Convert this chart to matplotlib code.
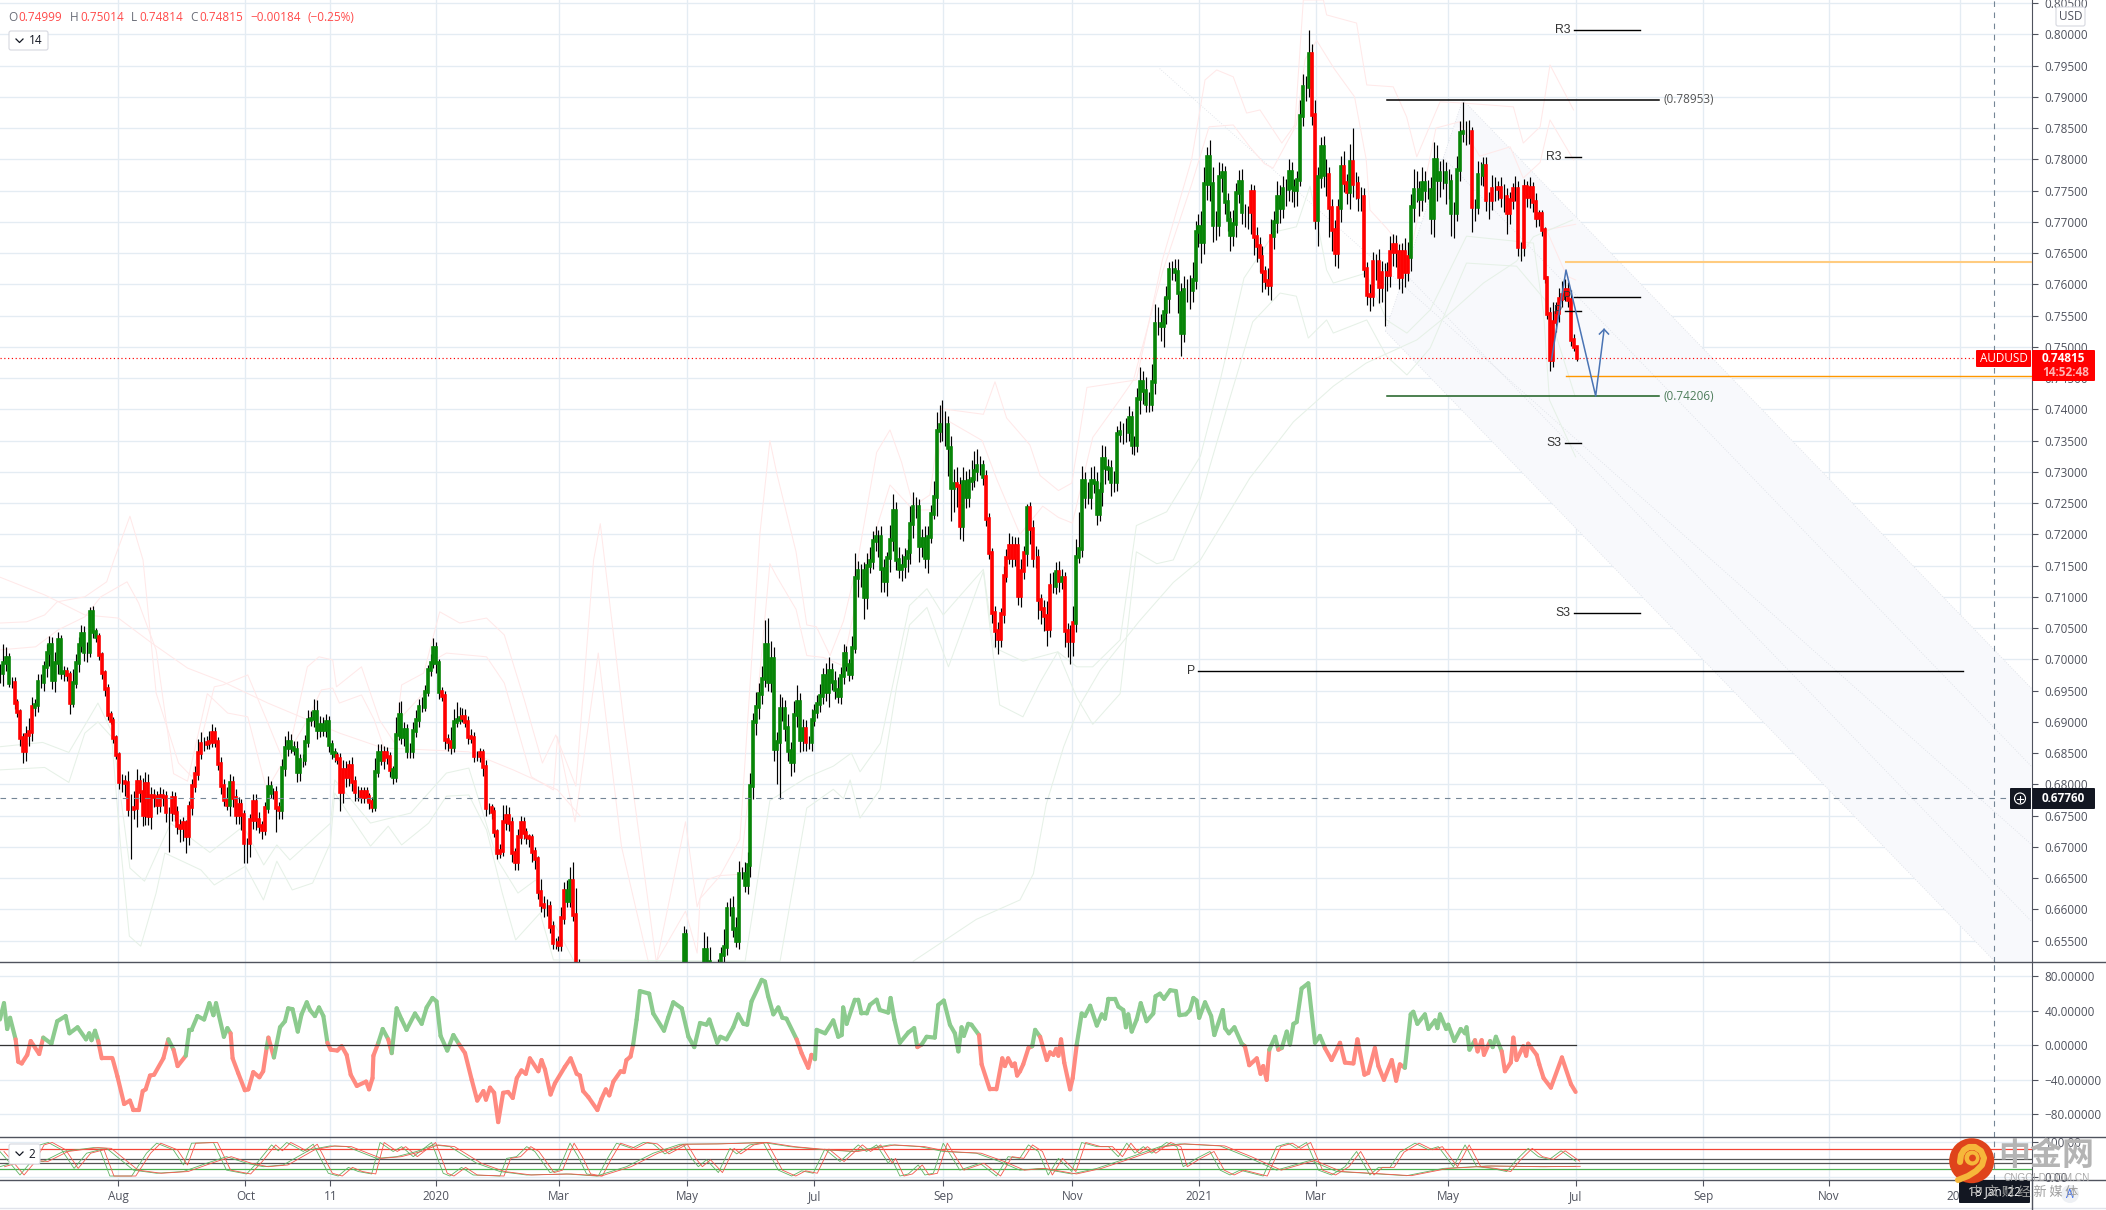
import numpy as np
import matplotlib
matplotlib.use("Agg")
import matplotlib.pyplot as plt
from matplotlib.collections import LineCollection
from matplotlib.patches import Circle, FancyBboxPatch, Polygon

# daily closes in pips (1 pip = 0.0001), bar 0 is the leftmost bar
closes = [
    6978,6994,7002,6962,6962,6930,6916,6874,6854,6879,6884,6924,6927,6964,6964,6987,7010,7023,6967,6994,
    7031,6978,6980,6975,6930,6962,6994,7023,7041,7012,7012,7076,7044,7036,7007,6978,6952,6911,6902,6874,
    6847,6803,6803,6802,6760,6760,6762,6803,6788,6751,6801,6749,6781,6780,6767,6782,6780,6755,6755,6778,
    6754,6734,6730,6738,6717,6763,6798,6817,6850,6864,6864,6866,6868,6882,6867,6833,6797,6775,6767,6802,
    6778,6751,6767,6751,6706,6706,6743,6771,6743,6734,6727,6762,6795,6786,6786,6762,6759,6826,6858,6868,
    6858,6855,6819,6839,6839,6867,6903,6904,6915,6887,6895,6887,6899,6863,6850,6845,6840,6788,6823,6812,
    6829,6804,6788,6788,6780,6788,6780,6771,6763,6820,6850,6839,6850,6843,6823,6811,6879,6911,6876,6887,
    6854,6854,6886,6903,6924,6924,6947,6983,6994,7018,6994,6948,6941,6871,6868,6860,6900,6903,6906,6908,
    6899,6875,6874,6845,6845,6850,6827,6762,6762,6755,6723,6690,6694,6739,6749,6738,6690,6675,6715,6738,
    6722,6715,6714,6691,6680,6628,6607,6604,6604,6572,6546,6546,6543,6586,6629,6614,6646,6591,6500,6480,
    6420,6350,6300,6230,6180,6080,5980,5880,5780,5750,5820,5920,6000,5950,6060,6100,6020,6080,6150,6120,
    6200,6130,6100,6190,6250,6190,6300,6240,6200,6160,6260,6290,6350,6400,6470,6559,6480,6450,6470,6500,
    6490,6470,6535,6516,6504,6492,6498,6510,6527,6539,6600,6600,6568,6550,6656,6656,6639,6671,6798,6899,
    6923,6944,6969,7023,6963,7000,6856,6868,6920,6920,6890,6854,6835,6911,6931,6871,6889,6868,6868,6903,
    6916,6928,6942,6974,6948,6982,6963,6951,6942,6974,7009,6991,6976,7018,7130,7141,7141,7099,7150,7158,
    7189,7195,7195,7144,7125,7162,7191,7238,7159,7144,7150,7162,7171,7216,7244,7244,7182,7193,7162,7196,
    7233,7260,7366,7375,7375,7375,7338,7274,7280,7277,7214,7283,7260,7285,7289,7302,7309,7309,7291,7224,
    7170,7074,7046,7032,7072,7133,7162,7182,7162,7182,7101,7141,7170,7242,7209,7162,7162,7095,7081,7069,
    7049,7118,7118,7140,7126,7130,7046,7029,7029,7058,7164,7177,7285,7260,7260,7285,7282,7233,7269,7321,
    7306,7305,7283,7283,7361,7364,7364,7364,7386,7343,7343,7416,7444,7429,7409,7409,7444,7537,7537,7533,
    7556,7578,7623,7623,7620,7586,7522,7591,7591,7591,7607,7684,7692,7668,7761,7803,7761,7695,7695,7772,
    7778,7732,7703,7679,7697,7746,7763,7715,7715,7715,7747,7675,7662,7644,7620,7606,7599,7678,7700,7739,
    7722,7752,7752,7779,7754,7751,7767,7869,7915,7915,7969,7871,7703,7772,7819,7775,7775,7722,7687,7650,
    7722,7788,7762,7747,7796,7760,7760,7740,7740,7624,7583,7581,7635,7635,7596,7618,7618,7615,7652,7663,
    7652,7612,7652,7620,7643,7723,7751,7751,7736,7762,7751,7751,7706,7799,7767,7778,7778,7763,7763,7714,
    7714,7783,7842,7843,7843,7843,7724,7724,7775,7775,7790,7735,7735,7753,7753,7754,7740,7740,7714,7735,
    7752,7752,7659,7659,7755,7740,7754,7732,7706,7713,7687,7610,7552,7479,7540,7554,7576,7583,7591,7575,
    7511,7500,7482,
]
# wick lengths above and below the body, pips
wick_up = [
    15,31,18,8,10,10,6,5,8,14,22,15,10,12,12,10,15,14,12,18,
    12,8,10,8,6,22,14,12,14,12,15,8,10,6,6,5,5,8,6,6,
    5,5,14,12,20,25,28,22,12,22,18,16,14,12,10,14,10,10,8,12,
    10,12,10,10,5,10,10,12,22,20,12,12,18,14,10,8,10,12,20,14,
    12,14,12,10,8,8,10,14,14,12,8,10,18,10,8,12,10,14,20,18,
    12,12,14,10,10,12,16,14,22,20,15,12,14,10,8,8,6,10,16,14,
    10,14,10,10,8,8,8,6,8,22,15,14,12,10,8,6,28,20,22,12,
    10,12,14,16,12,16,12,8,14,16,10,6,8,8,10,24,20,28,18,14,
    12,10,14,10,8,8,6,12,8,6,8,6,10,28,18,14,10,8,14,12,
    10,8,6,6,8,6,20,14,12,10,10,8,12,18,14,18,22,30,43,20,
    10,10,10,10,10,10,10,10,10,10,10,10,10,10,10,10,10,10,10,10,
    10,10,10,10,10,10,10,10,10,10,10,10,10,10,20,14,10,10,10,10,
    10,10,29,22,23,10,10,10,12,30,12,18,22,20,21,12,20,20,20,15,
    25,18,20,40,43,30,20,15,25,20,15,22,14,22,28,15,16,14,10,18,
    12,15,18,12,20,22,12,18,20,14,16,12,10,20,40,16,12,14,20,22,
    16,18,12,18,16,10,24,26,14,20,18,16,22,30,24,16,12,16,20,18,
    14,25,30,32,40,22,14,20,24,28,14,24,18,20,30,32,28,16,10,12,
    10,8,12,14,10,16,14,20,16,14,14,20,12,6,10,14,20,14,10,14,
    24,20,22,16,18,14,10,12,26,28,28,58,24,14,24,22,24,18,14,22,
    20,14,14,18,12,18,14,22,20,12,14,18,24,18,22,18,28,32,26,16,
    24,20,12,14,18,20,16,22,18,24,28,18,20,26,26,16,28,26,22,24,
    16,12,14,14,22,16,20,22,14,10,14,12,16,14,18,10,20,26,18,26,
    20,22,16,22,16,14,14,26,22,18,38,16,24,16,16,18,26,12,14,16,
    14,18,26,14,28,54,20,14,16,14,12,18,16,14,22,20,16,18,26,18,
    16,12,14,22,24,22,34,30,14,26,20,16,20,28,24,20,22,18,22,14,
    18,22,20,49,18,20,8,12,22,20,14,14,12,22,18,12,18,20,14,12,
    10,22,14,8,14,10,18,10,14,6,6,4,4,12,32,18,18,22,18,12,
    16,10,2,
]
wick_down = [
    16,20,12,6,8,10,8,12,20,16,18,14,14,12,10,14,16,20,14,20,
    18,10,12,10,18,6,8,14,12,14,16,8,10,8,8,10,10,8,6,8,
    6,10,16,20,10,80,16,30,16,18,16,14,20,16,14,12,14,16,64,14,
    12,14,22,20,27,14,12,10,10,10,10,8,10,8,8,10,12,10,8,18,
    14,14,14,24,32,32,22,14,16,12,14,8,8,8,10,38,14,14,12,12,
    8,8,16,14,12,8,8,10,12,14,12,10,12,12,10,10,8,30,18,16,
    14,14,14,14,10,10,8,10,8,6,8,8,14,10,12,10,8,8,12,14,
    12,12,12,10,12,8,6,6,10,8,16,12,8,14,14,12,8,8,6,6,
    8,10,8,10,8,10,14,12,10,10,8,10,8,8,12,12,14,12,12,10,
    10,10,14,16,16,12,12,16,14,10,10,10,10,10,10,10,10,10,10,10,
    10,10,10,10,10,10,10,10,10,10,10,10,10,10,10,10,10,10,10,10,
    10,10,10,10,10,10,10,10,10,10,10,10,10,10,10,10,10,10,10,10,
    10,10,10,8,10,10,10,10,10,14,12,10,12,10,14,8,12,14,20,22,
    20,18,16,14,14,16,18,55,91,18,20,16,22,16,20,20,18,14,12,14,
    10,10,12,14,14,24,12,14,12,14,14,10,10,8,8,30,26,34,18,12,
    14,16,32,36,18,24,22,18,16,14,18,20,22,18,22,18,26,18,16,24,
    10,8,30,18,26,34,44,52,38,34,22,24,18,16,14,14,16,14,12,10,
    10,16,26,24,12,14,10,10,14,12,14,18,12,20,24,14,16,30,24,24,
    28,14,12,14,18,14,26,26,36,24,14,10,14,18,12,20,16,18,12,24,
    26,18,22,16,14,14,20,16,14,14,16,12,24,20,14,14,12,20,18,24,
    34,20,24,16,14,32,36,14,20,30,20,14,24,34,20,26,28,28,24,18,
    24,20,18,26,18,22,16,18,24,26,34,28,26,24,32,14,16,24,22,18,
    24,16,26,18,22,28,26,10,16,22,16,16,14,42,18,20,34,46,34,20,
    24,22,14,18,26,20,24,22,22,12,16,24,16,28,26,24,84,26,20,22,
    24,20,26,24,14,22,24,20,26,18,20,14,26,30,34,28,26,34,26,36,
    40,12,18,14,20,18,40,22,12,16,18,18,30,16,20,18,16,24,34,18,
    14,18,14,22,14,16,18,16,14,12,10,8,8,18,12,16,14,12,10,12,
    10,6,4,
]
# bars painted red (first, last), everything else is green
red_runs = [(4,11),(23,24),(34,78),(80,91),(94,96),(116,128),(132,134),(152,155),(159,194),
            (197,234),(277,277),(329,330),(339,352),(354,362),(364,364),(366,369),(429,437),
            (451,452),(456,460),(462,463),(465,484),(505,507),(511,542)]

# faint bands (bar, pips)
band_r1 = [(0,7058),(9.5,7060),(15.7,7071),(20,7092),(29.5,7100),(37,7124),(39.5,7159),(45,7229),(49.5,7159),
           (54,6946),(61.7,6834),(66.3,6812),(74,6956),(77,6959),(85.5,6975),(92,6903),(98.5,6829),(106,6988),
           (110,7004),(114.7,6999),(116,6956),(124.6,6988),(130.8,6903),(136,6866),(138.4,6959),(146,6978),
           (151.5,7076),(158.4,7058),(167.6,7066),(173.7,7039),(180.6,6935),(186.8,6834),(191.4,6879),(198.3,6797),
           (204.4,7159),(206.7,7217),(215,6892),(226,6514),(236,6740),(240,6604),(243.3,6647),(248,6655),(254.7,6712),
           (261.6,7202),(265,7350),(267.4,7297),(274,7172),(277.7,7055),(281,7052),(285.7,7006),(290.3,7061),(295,7153),
           (301.7,7331),(306.3,7367),(310.3,7315),(314.3,7245),(320,7263),(324,7401),(338.4,7392),(342.4,7444),
           (346.4,7386),(354.4,7343),(357.9,7294),(364.2,7270),(368.8,7282),(374,7435),(391,7447),(400,7640),(410,7800),
           (414.6,7927),(418.6,7943),(424.3,7932),(428.9,7874),(433.5,7879),(441,7826),(445.5,7855),(448.4,8055),
           (455.3,8055),(456.4,8031),(466.7,8018),(470.2,7919),(479.3,7916),(483.9,7868),(487.4,7804),(495.4,7892),
           (503.4,7890),(520.6,7884),(524,7826),(529.8,7852),(533.2,7951),(541.3,7879)]
band_r2 = [(0,7015),(12.6,7020),(20.3,7047),(29.5,7068),(35,7100),(44,7124),(48,7090),(54,7015),(60,6817),(64.8,6805),
           (71.6,6945),(78.6,6914),(85.5,6908),(92,6791),(106,6903),(110.8,6951),(114.7,6954),(117,6930),(124.6,6943),
           (129,6903),(135.4,6818),(138.4,6908),(146,6946),(150,7000),(153.8,7010),(167.6,7004),(173.7,6962),(183,6812),
           (190.6,6791),(192,6876),(198,6740),(206,7010),(214,6700),(224,6500),(236,6597),(240,6530),(241,6617),(248,6654),
           (254.7,6656),(258,6798),(265,7153),(267.4,7132),(274,7080),(277.7,7006),(283.4,7003),(290,6990),(295,7100),
           (301,7200),(306.3,7279),(314.3,7239),(321,7239),(324.6,7386),(338,7350),(343,7288),(351,7200),(358.8,7245),
           (364.2,7227),(369,7218),(376,7355),(385.4,7416),(390,7447),(400,7620),(410,7760),(416,7852),(424.3,7855),
           (430,7820),(435,7793),(438,7786),(446,7855),(449,7960),(453,7990),(459,7945),(466,7900),(470,7800),(471.3,7719),
           (477,7690),(485,7645),(494,7850),(502,7860),(509,7805),(519.5,7820),(524,7770),(529.8,7795),(533.2,7863),(541.3,7799)]
band_r3 = [(526,7759),(532,7687),(539,7613),(542,7607)]
band_r4 = [(531.6,7687),(542,7696)]
band_long = [(0,7132),(15.7,7103),(29.5,7071),(41,7066),(52.5,7026),(64.8,6986),(77,6964),(92.4,6930),(104.7,6906),
             (117,6882),(132,6858),(147.6,6855),(161.5,6852),(176.8,6823),(192,6791),(199.8,6749)]
band_g1 = [(0,6860),(15,6867),(24,6851),(34,6930),(39,6882),(45,6666),(50,6645),(59,6738),(72.5,6691),(84,6733),(91,6671),
           (95.5,6703),(100,6679),(114,6738),(115.4,6807),(127.7,6738),(141.5,6754),(153.8,6818),(161.5,6826),(171.4,6679),
           (178.4,6626),(184.5,6647),(189,6594),(198,6514),(256.5,6517),(265,6774),(277.7,6811),(286.8,6829),(293,6850),
           (296,6820),(303,6866),(313,7086),(319,7113),(324.6,7071),(338.4,7144),(342,7019),(352,6997),(364,7012),(370.5,6988),
           (376,6988),(385.4,7031),(391,7214),(401.4,7236),(413,7325),(420,7450),(428,7610),(438.7,7684),(446,7692),(450.7,7757),
           (456.4,7623),(458.7,7602),(470,7618),(477,7543),(484,7522),(492,7559),(504.5,7677),(527.5,7666),(531,7554),(533,7415),(542,7324)]
band_g2 = [(0,6823),(15.7,6827),(24,6803),(29.5,6882),(34,6900),(38.7,6876),(41.8,6700),(44.8,6557),(48.7,6541),(54,6626),
           (57,6690),(69.4,6663),(74,6639),(84.7,6669),(90.9,6615),(95.5,6677),(100.8,6631),(107.8,6642),(113.9,6706),(115.4,6786),
           (127.7,6701),(133.8,6733),(138.4,6703),(147.7,6738),(153.8,6781),(161.5,6783),(167.6,6727),(173,6626),(177.6,6551),
           (186,6594),(190.6,6519),(268.5,6517),(277.7,6762),(286.8,6792),(290.3,6777),(292.6,6807),(296,6746),(302.9,6792),
           (308.6,6957),(313,7055),(319,7083),(326.4,6988),(332.7,7068),(338.4,7141),(341.8,7006),(344,6927),(352,6908),(358,6964),
           (364,7012),(370.5,6939),(376,6896),(385.4,6945),(391,7172),(398,7153),(403.7,7159),(413,7257),(422,7400),(431,7540),
           (440.4,7586),(446,7581),(450.1,7514),(456.4,7543),(458.7,7522),(470.2,7543),(477,7485),(484,7455),(492,7498),(504.5,7634),
           (521.7,7629),(531.5,7575),(541.8,7421)]
band_g3 = [(314.3,6517),(336,6584),(351,6615),(355.6,6657),(360,6768),(366,6860),(371.6,6927),(378.5,6982),(392,7061),(403.7,7123),
           (413,7159),(430,7290),(445,7380),(458.7,7437),(470,7474),(487.4,7511),(498.8,7554),(510.3,7602),(521.7,7637),(527.5,7676),(541,7703)]

# lower panes (bar, value)
cci_points = [
    (0.3,30),(1.7,49),(2.8,19),(3.8,32),(5.7,7),(6.6,-19),(7.8,-21),(9.7,-11),(10.9,5),(13.8,-10),(15.2,9),(18,2),(20,28),(22.9,34),
    (24.2,14),(27,21),(29.9,7),(31,14),(31.8,6),(33,17),(34.1,5),(35.3,-15),(39,-15),(40.7,-36),(43,-68),(45,-64),(46.2,-75),(48.1,-75),
    (49.4,-53),(50.4,-51),(51.9,-35),(53.3,-34),(56.5,-15),(58.2,7),(60,-5),(61.4,-24),(64.2,-12),(65.4,18),(66.2,18),(68.2,34),(70.5,30),
    (72.3,49),(73.7,35),(74.6,49),(77.3,10),(78.5,20),(79.6,14),(80.3,-15),(82.2,-32),(84.5,-52),(85.7,-51),(87.4,-31),(89.5,-37),(90.8,-30),
    (92,-3),(92.6,9),(94.5,-14),(96.6,21),(98.3,28),(99.4,43),(100.9,42),(102.7,16),(104,36),(105.8,50),(106.9,41),(108.6,34),(110,44),(111.5,34),
    (112.9,3),(114,-5),(116.3,-6),(117.8,-1),(119.5,-11),(120.9,-34),(123,-47),(126.2,-42),(127.2,-51),(128.4,-38),(128.7,-12),(130.4,3),(131.9,19),
    (133.8,7),(135,-9),(136.7,43),(138.4,30),(140.1,18),(143,37),(145.3,25),(147,44),(149,55),(150.4,51),(151.8,11),(154.1,-6),(156.2,12),(158.2,1),
    (160.2,-9),(162.5,-40),(164.4,-64),(166.5,-53),(167.4,-63),(168.8,-49),(170.2,-55),(171.6,-89),(173.3,-55),(175,-54),(176.6,-61),(178,-38),(179.6,-29),
    (181.1,-33),(182.5,-15),(185.4,-30),(186.5,-17),(187.7,-28),(189.6,-57),(191.1,-44),(194.5,-25),(196.5,-15),(198.6,-33),(199.7,-35),(200.8,-53),
    (202.6,-60),(205.7,-75),(207.1,-62),(208.6,-51),(209.8,-58),(211.2,-42),(213.7,-30),(214.8,-31),(215.7,-17),(217.1,-13),(218,1),(219.2,30),(220.3,63),
    (223.5,60),(224.9,37),(228.6,17),(230,32),(231.8,50),(234.7,43),(237,10),(239,-2),(241,26),(243.2,24),(244.2,30),(246.9,3),(248,10),(250.1,7),(252.4,21),
    (254.1,36),(255.9,25),(257.2,24),(258.7,51),(262.2,76),(263.3,74),(264.4,57),(266.2,36),(267.9,44),(269.3,32),(270.7,31),(274.2,7),(275.9,-9),(278.2,-26),
    (279.3,-11),(280.5,-16),(281.1,18),(284,14),(286.8,29),(288.5,10),(289.7,12),(290.2,44),(291.4,25),(294.2,53),(295.4,53),(296.5,37),(298.3,37),(299.4,47),
    (301.7,53),(302.8,41),(305.7,38),(306.5,55),(307.8,30),(309.7,3),(312.6,15),(314.6,20),(315.7,-2),(317.2,1),(318.9,10),(321.7,9),(322.9,47),(324.8,52),
    (326.9,24),(328.6,14),(329.8,-7),(330.9,21),(331.7,11),(333.2,25),(334.3,24),(336.9,12),(337.8,-22),(340.6,-51),(342.9,-51),(344.9,-15),(345.8,-24),
    (346.9,-15),(348.3,-24),(349.2,-21),(350,-35),(351,-30),(352.1,-22),(353.9,-3),(355.2,-1),(356.2,18),(357.9,10),(360.2,-17),(361.3,-8),(362.5,-11),(363.4,-4),
    (364.2,-12),(365.1,7),(366.2,-20),(368.2,-51),(369.1,-38),(370.5,1),(372.2,37),(373.3,34),(375.1,46),(377.4,23),(379.1,36),(380.2,31),(381.4,54),(383.7,54),
    (384.8,45),(386.5,41),(387.4,21),(388.2,36),(389.4,16),(391.1,30),(392.5,49),(394.5,28),(396.8,37),(397.6,57),(399.1,60),(400.5,54),(402.6,64),(404.6,63),
    (405.8,35),(408,36),(409.4,41),(410.6,55),(411.7,52),(412.6,32),(414.6,50),(416.7,34),(417.8,12),(420.7,41),(421.5,20),(422.8,14),(424.7,21),(427.2,2),
    (428.3,-1),(429.8,-23),(432.4,-15),(433.7,-33),(434.6,-24),(435.8,-40),(436.7,-5),(438.7,10),(439.8,-5),(441,-3),(442.7,16),(443.8,1),(445,25),(446.1,27),
    (447.8,66),(450.1,72),(452.4,3),(454.1,11),(455.8,-3),(458.1,-17),(461,3),(462.7,-20),(465.6,-21),(467,7),(469.4,-34),(470.7,-32),(473,-3),(474.2,-24),
    (476.1,-40),(478.8,-17),(480.3,-41),(481.6,-22),(483.3,-26),(485.3,36),(486.2,39),(487.6,25),(490.2,36),(491.4,19),(493.7,29),(494.5,20),(495.4,36),
    (497.5,19),(498.2,24),(500.3,5),(502.5,19),(504,14),(504.5,21),(505.5,-5),(507.4,6),(508.3,-7),(509.7,6),(510.5,-11),(512.6,5),(513.5,-2),(514.6,10),
    (516.6,-7),(517.7,-30),(519.7,-20),(520.6,9),(521.7,-17),(524,-1),(525,-12),(525.7,2),(528.6,-11),(529.5,-22),(531,-38),(533.5,-49),(537.3,-14),(540.4,-45),(542,-54),
]
stoch_fast = [
    (0.3,73),(3.8,39),(7.2,5),(10.6,39),(14.1,92),(16.9,99),(21.5,78),(25.8,24),(30.1,68),(34.7,78),(38.1,2),(45.6,2),(50.7,68),(54.2,97),(59.9,78),(63.4,34),
    (66.2,97),(73.7,99),(78.2,19),(85.1,8),(89.1,44),(93.7,92),(96,75),(98.9,99),(101.7,87),(104.6,73),(108,94),(113.2,10),(116.6,2),(120.1,27),(123.5,15),
    (128.1,8),(131,99),(135.5,73),(138.4,87),(142.4,58),(148.7,99),(152.7,10),(155,2),(159,27),(163,5),(172.2,2),(174.5,53),(177.9,58),(181.4,87),(184.2,73),
    (189.4,12),(192.3,19),(196.3,97),(199.1,58),(202,8),(206,2),(208.9,49),(212.3,97),(217.5,82),(221.5,99),(224.9,95),(228.9,66),(235.2,94),(238.1,53),(240.4,29),
    (243.2,49),(247.3,12),(251.3,82),(253.6,66),(258.1,92),(262.7,99),(267.9,19),(272.5,2),(275.9,17),(279.9,10),(283.9,80),(289.1,44),(295.4,92),(298.2,73),
    (301.7,92),(305.7,39),(306.8,53),(309.7,2),(312.6,8),(316,34),(318.3,5),(321.2,10),(324.6,97),(330.3,19),(337.2,39),(342.9,2),(346.9,58),(350.9,53),(353.9,92),
    (357.3,73),(360.7,5),(364.2,53),(368.8,15),(372.2,99),(377.4,87),(381.4,87),(384.8,58),(387.7,97),(390.5,68),(393.4,87),(396.3,68),(401.4,99),(404.9,87),
    (407.1,29),(411.7,53),(416.3,73),(419.8,19),(423.2,5),(426.6,19),(434.6,2),(439.2,87),(443.2,97),(446.1,82),(449.5,99),(453.6,19),(458.1,5),(462.7,29),
    (466.7,73),(471.3,5),(474.2,27),(478.2,27),(481.6,71),(486.8,97),(491.4,78),(494.8,87),(500,29),(504,92),(508,29),(513.1,24),(518.3,15),(521.7,49),(525.7,82),
    (529.2,58),(533,50),(537,75),(542,45),
]
stoch_slow = [
    (0.3,29),(8.3,49),(15.2,44),(22.1,73),(32.4,84),(37,82),(46.2,19),(54.2,10),(63.4,15),(71.4,39),(78.2,58),(85.1,39),(90.9,29),(97.7,34),(106.9,78),(113.8,89),
    (119.5,87),(129.8,53),(136.7,58),(143.6,73),(149.3,92),(155,87),(164.2,39),(172.2,15),(181.4,5),(195.1,8),(205.4,2),(215.7,29),(224.9,68),(234.1,94),(246.7,95),
    (262.7,99),(271.9,87),(283.4,78),(293.7,73),(306.3,92),(316.6,87),(324.6,73),(336,68),(344,44),(350.9,19),(357.9,24),(368.8,8),(377.4,24),(387.7,53),(399.1,87),
    (406,95),(419.8,89),(428.9,58),(439.2,19),(450.7,47),(459.9,15),(470.2,10),(483.9,3),(496.5,24),(511.4,31),(529.8,29),(542,30),
]
stoch_levels = [(79,"#F44336"),(52,"#555555"),(40,"#555555"),(21,"#4CAF50")]

# drawings on the price pane: (label, price, first bar, last bar)
levels = [("R3",0.80075,541.4,564.2),("R3",0.78032,538.3,544.0),("P",0.75792,541.4,564.2),
          ("P",0.75573,538.3,544.0),("S3",0.73461,538.3,544.0),("S3",0.70741,541.4,564.2),("P",0.69821,412.2,675.1)]
blue_bars = [533.7,538.7,548.9,551.8]
blue_prices = [0.74789,0.76229,0.74213,0.75280]
head_bars = [550.2,551.8,553.3]
head_prices = [0.75205,0.75280,0.75205]
fork_top = (503.2,0.78953)
fork_low = (476.6,0.7525)
fork_right = [0.69525,0.68277,0.67029,0.65797,0.64549]

tick_bars = [41,84.7,113.9,150.3,192.6,236.5,280.3,324.6,369,412.6,452.7,498.2,542,585.8,629,674]
tick_text = ["Aug","Oct","11","2020","Mar","May","Jul","Sep","Nov","2021","Mar","May","Jul","Sep","Nov","2022"]
cci_ticks = [80,40,0,-40,-80]
last_price = 0.74815
cursor_price = 0.67776
cursor_bar = 685.8

W, H = 2106, 1210
FONT = ["Open Sans", "DejaVu Sans"]
CJK = ["Noto Sans CJK SC", "DejaVu Sans"]
plt.rcParams["font.family"] = FONT
GRID = "#E4ECF3"
AXIS = "#50535E"
TXT = "#50535E"
FS = 8.5


def pane(top, bottom):
    a = fig.add_axes([0, 1 - bottom / H, 2032 / W, (bottom - top) / H])
    a.set_xlim(0.33, 698.9)
    a.set_facecolor("white")
    for s in ["top", "left", "bottom"]:
        a.spines[s].set_visible(False)
    a.spines["right"].set_color(AXIS)
    a.yaxis.tick_right()
    a.tick_params(axis="y", length=4, color=AXIS, labelcolor=TXT, labelsize=FS, pad=5, width=0.8)
    a.set_xticks(tick_bars)
    a.set_xticklabels([])
    a.tick_params(axis="x", length=0)
    a.grid(True, color=GRID, lw=0.95)
    a.set_axisbelow(True)
    return a


def band(a, pts, color, lw=0.75):
    b, p = zip(*pts)
    a.plot(b, np.array(p) / 10000, color=color, lw=lw, zorder=1.5)


fig = plt.figure(figsize=(W / 100, H / 100), dpi=100, facecolor="white")
ax = pane(0, 962)
ax_cci = pane(962, 1137.3)
ax_st = pane(1137.3, 1180)

# ---- price pane
ax.set_ylim(0.65157, 0.80549)
pticks = np.arange(0.655, 0.8051, 0.005)
ax.set_yticks(pticks)
ax.set_yticklabels(["%.5f" % v for v in pticks])

# pitchfork
ax.add_patch(Polygon([fork_top, (698.9, fork_right[0]), (698.9, fork_right[4]), fork_low],
                     closed=True, fc="#F8F9FC", ec="none", zorder=1))
for i, pr in enumerate(fork_right):
    if i == 2:
        start = (399, 0.79451)
    else:
        frac = i / 4
        start = (fork_top[0] + (fork_low[0] - fork_top[0]) * frac, fork_top[1] + (fork_low[1] - fork_top[1]) * frac)
    ax.plot([start[0], 698.9], [start[1], pr], color="#DADEE5", lw=0.6, ls=(0, (1, 2)), zorder=1.2)
ax.plot([fork_top[0], fork_low[0]], [fork_top[1], fork_low[1]], color="#DADEE5", lw=0.6, ls=(0, (1, 2)), zorder=1.2)

for pts in [band_r1, band_r2, band_r3, band_r4, band_long]:
    band(ax, pts, "#FFE9E9")
for pts in [band_g1, band_g2, band_g3]:
    band(ax, pts, "#E6F1E7")

n = len(closes)
bars = np.arange(n) + 0.33
c = np.array(closes, dtype=float)
o = np.r_[c[0], c[:-1]]
top_b = np.maximum(o, c)
bot_b = np.minimum(o, c)
highs = top_b + np.array(wick_up)
lows = bot_b - np.array(wick_down)
ax.vlines(bars, lows / 10000, highs / 10000, color="black", lw=0.85, zorder=2)
is_red = np.zeros(n, dtype=bool)
for a, b in red_runs:
    is_red[a:b + 1] = True
colors = np.where(is_red, "#FF0000", "#078507")
ax.vlines(bars, bot_b / 10000, top_b / 10000, colors=list(colors), lw=2.6, zorder=3, capstyle="projecting")

ax.axhline(last_price, color="#FF0000", lw=0.85, ls=(0, (1, 2.2)), zorder=4)
ax.axhline(cursor_price, color="#758696", lw=0.8, ls=(0, (5, 5)), zorder=4)

for label, price, b0, b1 in levels:
    ax.plot([b0, b1], [price, price], color="black", lw=1.0, zorder=5)
    ax.text(b0 - 1.1, price, label, ha="right", va="center", fontsize=FS + 0.3, color="#333333", zorder=5,
            family=["Liberation Sans"])
ax.plot([477.1, 570.6], [0.78953, 0.78953], color="black", lw=1.1, zorder=5)
ax.plot([477.1, 570.6], [0.74206, 0.74206], color="#1B5E20", lw=1.1, zorder=5)
ax.text(572.3, 0.78953, "(0.78953)", color="#555555", fontsize=FS, va="center", zorder=5)
ax.text(572.3, 0.74206, "(0.74206)", color="#4E7D5B", fontsize=FS, va="center", zorder=5)
ax.plot([538.7, 698.9], [0.76358, 0.76358], color="#FFCC80", lw=1.5, zorder=5)
ax.plot([538.7, 698.9], [0.74530, 0.74530], color="#FF9800", lw=1.0, zorder=5)
ax.plot(blue_bars, blue_prices, color="#4A74B4", lw=1.1, zorder=6)
ax.plot(head_bars, head_prices, color="#4A74B4", lw=1.1, zorder=6)

# ---- oscillator pane
ax_cci.set_ylim(-106.6, 96.7)
ax_cci.set_yticks(cci_ticks)
ax_cci.set_yticklabels([("%.5f" % v).replace("-", "\u2212") for v in cci_ticks])
pb, pv = zip(*cci_points)
pb = np.array(pb)
pv = np.array(pv, dtype=float)
segs = [[(pb[i], pv[i]), (pb[i + 1], pv[i + 1])] for i in range(len(pb) - 1)]
seg_col = ["#8CCB8E" if pv[i] + pv[i + 1] >= 0 else "#FF8A80" for i in range(len(pb) - 1)]
ax_cci.add_collection(LineCollection(segs, colors=seg_col, linewidths=3.0, capstyle="round", zorder=3))
ax_cci.plot([0.33, 542], [0, 0], color="#333333", lw=0.9, zorder=4)

# ---- stochastic pane
ax_st.set_ylim(-9.5, 114)
ax_st.set_yticks([100, 0])
ax_st.set_yticklabels(["100.00", "0.00"])
for v, col in stoch_levels:
    ax_st.axhline(v, color=col, lw=0.9, zorder=2)
fb, fv = zip(*stoch_fast)
fb = np.array(fb)
sb, sv = zip(*stoch_slow)
sb = np.array(sb)
ax_st.plot(fb, fv, color="#5FB463", lw=0.6, zorder=3)
ax_st.plot(fb + 1.4, fv, color="#F4574C", lw=0.6, zorder=3)
ax_st.plot(sb, sv, color="#5FB463", lw=0.6, zorder=3)
ax_st.plot(sb + 1.6, sv, color="#F4574C", lw=0.6, zorder=3)
ax_st.set_xticklabels(tick_text)
ax_st.tick_params(axis="x", length=4, color=AXIS, labelcolor=TXT, labelsize=FS, pad=3, width=0.8)
for a in [ax, ax_cci, ax_st]:
    a.axvline(cursor_bar, color="#758696", lw=0.8, ls=(0, (5, 5)), zorder=4)

# ---- overlay in pixels for chart furniture
ov = fig.add_axes([0, 0, 1, 1], zorder=20)
ov.set_xlim(0, W)
ov.set_ylim(H, 0)
ov.axis("off")
for y in [962, 1137.3, 1180]:
    ov.plot([0, W], [y, y], color=AXIS, lw=1.0)
ov.plot([0, W], [1208, 1208], color="#E0E3EB", lw=1.0)
ov.plot([2032, 2032], [1180, H], color=AXIS, lw=1.0)

x_head = [8, 18, 70, 80, 131, 139, 190, 199, 250, 307]
head_txt = ["O", "0.74999", "H", "0.75014", "L", "0.74814", "C", "0.74815", "\u22120.00184", "(\u22120.25%)"]
for xh, s in zip(x_head, head_txt):
    col = "#6A6D78" if s in "OHLC" else "#FF4A4A"
    ov.text(xh, 17.5, s, fontsize=FS, color=col, va="center", ha="left")


def button(x0, y0, x1, y1):
    ov.add_patch(FancyBboxPatch((x0 + 2, y0 + 2), x1 - x0 - 4, y1 - y0 - 4, boxstyle="round,pad=2",
                                fc="white", ec="#D6D8E0", lw=0.8, zorder=5))


button(9, 31, 48, 50)
ov.plot([16, 19.5, 23], [39, 42.5, 39], color="#131722", lw=0.9, zorder=6)
ov.text(29, 41, "14", fontsize=FS, color="#131722", va="center", zorder=6)
button(9, 1144, 40, 1164)
ov.plot([16, 19.5, 23], [1152, 1155.5, 1152], color="#131722", lw=0.9, zorder=6)
ov.text(28, 1154.5, "2", fontsize=FS, color="#131722", va="center", zorder=6)
button(2056, 7, 2085, 26)
ov.text(2070.5, 16, "USD", fontsize=FS, color=TXT, va="center", ha="center", zorder=6)

# price tags
ov.add_patch(FancyBboxPatch((1977, 351), 53, 15, boxstyle="round,pad=1", fc="#FF0000", ec="none", zorder=5))
ov.text(2003.5, 359, "AUDUSD", fontsize=FS, color="white", va="center", ha="center", zorder=6)
ov.add_patch(FancyBboxPatch((2033, 351), 61, 29, boxstyle="round,pad=1", fc="#FF0000", ec="none", zorder=5))
ov.text(2042, 358.5, "0.74815", fontsize=FS, color="white", fontweight="bold", va="center", zorder=6)
ov.text(2042, 373, "14:52:48", fontsize=FS, color="#FFB3B3", fontweight="bold", va="center", zorder=6)
ov.add_patch(FancyBboxPatch((2011, 789), 83, 19, boxstyle="round,pad=1", fc="#131722", ec="none", zorder=5))
ov.plot([2031, 2031], [788, 809], color="white", lw=0.8, zorder=6)
ov.add_patch(Circle((2020, 798.5), 5.5, fc="none", ec="white", lw=0.8, zorder=6))
ov.plot([2017, 2023], [798.5, 798.5], color="white", lw=0.8, zorder=6)
ov.plot([2020, 2020], [795.5, 801.5], color="white", lw=0.8, zorder=6)
ov.text(2042, 798.5, "0.67760", fontsize=FS, color="white", fontweight="bold", va="center", zorder=6)

ov.add_patch(FancyBboxPatch((1960, 1181), 69, 21, boxstyle="round,pad=1", fc="#131722", ec="none", zorder=7))
ov.text(1994.5, 1192, "18 Jan '22", fontsize=FS, color="white", va="center", ha="center", zorder=8)

# watermark
ov.text(2046, 1156, "\u4e2d\u91d1\u7f51", fontsize=23, family=CJK, color="#B4B4B4", fontweight="bold",
        va="center", ha="center", zorder=9)
ov.text(2047, 1178, "CNGOLD.COM.CN", fontsize=7.2, family=["Liberation Sans"], color="#A8A8A8", va="center", ha="center", zorder=9)
ov.text(2024, 1192, "\u4e2d \u6587 \u8d22 \u7ecf \u65b0 \u5a92 \u4f53", fontsize=9.4, family=CJK, color="#A0A0A0",
        va="center", ha="center", zorder=9)
ov.add_patch(Circle((2070, 1194), 9, fc="#EEF0F4", ec="none", zorder=6))
ov.text(2070, 1194, "A", fontsize=FS, color="#2962FF", va="center", ha="center", zorder=7)
ov.add_patch(Circle((1971.7, 1160.7), 22.5, fc="#DF431B", ec="none", zorder=10))
ov.plot([1960, 1961, 1964, 1969, 1975, 1981, 1984, 1982, 1976, 1968, 1958],
        [1162, 1155, 1150, 1147, 1147, 1151, 1158, 1165, 1171, 1176, 1180],
        color="#F6B73A", lw=4.4, solid_capstyle="round", zorder=11)
ov.add_patch(Circle((1972, 1158), 7.5, fc="#F6B73A", ec="none", zorder=11))
ov.add_patch(Circle((1972.5, 1158), 3.4, fc="#DF431B", ec="none", zorder=12))

fig.savefig("out.png", dpi=100, facecolor="white")
